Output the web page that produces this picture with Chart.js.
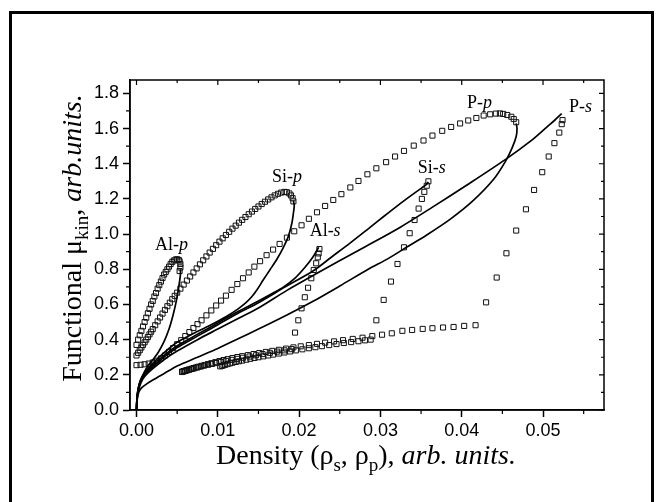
<!DOCTYPE html>
<html>
<head>
<meta charset="utf-8">
<title>Functional vs density</title>
<script src="https://cdn.jsdelivr.net/npm/chart.js@4.4.0/dist/chart.umd.min.js"></script>
<style>
  html, body { margin: 0; padding: 0; background: #fff; }
  #wrap { width: 661px; height: 502px; }
</style>
</head>
<body>
<div id="wrap"><canvas id="chart" width="661" height="502"></canvas></div>
<script>
// axis ticks
var xTicks = [0, 0.01, 0.02, 0.03, 0.04, 0.05];
var xMinor = [0.005, 0.015, 0.025, 0.035, 0.045, 0.055];
var yTicks = [0, 0.2, 0.4, 0.6, 0.8, 1.0, 1.2, 1.4, 1.6, 1.8];
var yMinor = [0.1, 0.3, 0.5, 0.7, 0.9, 1.1, 1.3, 1.5, 1.7];

// solid curves
var alpLineX = [0, 0.00005, 0.0002, 0.0005, 0.0009, 0.0014, 0.002, 0.0027, 0.0034, 0.004, 0.0045, 0.0049, 0.0052, 0.0054, 0.0054];
var alpLineY = [0, 0.06, 0.12, 0.17, 0.21, 0.25, 0.285, 0.33, 0.39, 0.46, 0.54, 0.62, 0.70, 0.77, 0.80];

var sipLineX = [0, 0.00005, 0.0002, 0.0005, 0.001, 0.002, 0.0035, 0.005, 0.007, 0.009, 0.011, 0.0125, 0.0135, 0.0142, 0.0148, 0.0156, 0.0164, 0.0173, 0.0181, 0.0187, 0.0191, 0.0193, 0.0194, 0.0193];
var sipLineY = [0, 0.06, 0.12, 0.17, 0.21, 0.265, 0.33, 0.385, 0.435, 0.48, 0.53, 0.575, 0.612, 0.645, 0.682, 0.74, 0.796, 0.86, 0.928, 0.99, 1.06, 1.12, 1.16, 1.19];

var alsLineX = [0, 0.00005, 0.0002, 0.0005, 0.001, 0.002, 0.0035, 0.005, 0.0075, 0.01, 0.0125, 0.015, 0.0168, 0.0181, 0.0195, 0.0207, 0.0217, 0.0224];
var alsLineY = [0, 0.06, 0.115, 0.165, 0.205, 0.255, 0.315, 0.365, 0.43, 0.495, 0.56, 0.62, 0.665, 0.70, 0.75, 0.81, 0.87, 0.925];

var sisLineX = [0, 0.00005, 0.0002, 0.0005, 0.001, 0.002, 0.0035, 0.005, 0.0075, 0.01, 0.0125, 0.015, 0.0183, 0.0217, 0.024, 0.0263, 0.0285, 0.0304, 0.0322, 0.0338, 0.035, 0.0356, 0.0359];
var sisLineY = [0, 0.055, 0.11, 0.16, 0.2, 0.245, 0.305, 0.355, 0.42, 0.485, 0.55, 0.61, 0.70, 0.79, 0.87, 0.95, 1.03, 1.10, 1.165, 1.22, 1.26, 1.28, 1.295];

var psLineX = [0, 0.00005, 0.0002, 0.0005, 0.001, 0.002, 0.0035, 0.005, 0.0075, 0.01, 0.0125, 0.015, 0.0185, 0.0222, 0.0274, 0.0324, 0.0365, 0.0406, 0.0454, 0.0485, 0.0505, 0.0515, 0.052, 0.0523];
var psLineY = [0, 0.05, 0.1, 0.15, 0.19, 0.235, 0.29, 0.335, 0.40, 0.46, 0.52, 0.58, 0.68, 0.777, 0.91, 1.038, 1.156, 1.278, 1.425, 1.53, 1.61, 1.65, 1.672, 1.685];

var ppLineX = [0, 0.00005, 0.0002, 0.0005, 0.001, 0.002, 0.0035, 0.005, 0.0075, 0.01, 0.0125, 0.015, 0.0185, 0.0216, 0.025, 0.0285, 0.031, 0.0332, 0.0357, 0.0386, 0.0414, 0.0439, 0.0454, 0.0462, 0.0467, 0.0468, 0.0467];
var ppLineY = [0, 0.045, 0.09, 0.12, 0.14, 0.17, 0.21, 0.25, 0.30, 0.35, 0.405, 0.46, 0.54, 0.615, 0.705, 0.80, 0.862, 0.925, 0.995, 1.085, 1.19, 1.31, 1.415, 1.49, 1.555, 1.60, 1.63];

// open-square markers
var alpMarkX = [0, 0.0002, 0.0004, 0.0006, 0.0008, 0.001, 0.0012, 0.0014, 0.0016, 0.0018, 0.002, 0.0022, 0.0024, 0.0026, 0.0028, 0.003, 0.0032, 0.0034, 0.0036, 0.0038, 0.004, 0.0042, 0.0044, 0.0046, 0.0048, 0.005, 0.0052, 0.0053, 0.0054, 0.0054, 0.0053];
var alpMarkY = [0.37, 0.40, 0.425, 0.45, 0.475, 0.50, 0.525, 0.55, 0.575, 0.60, 0.62, 0.645, 0.665, 0.69, 0.71, 0.73, 0.75, 0.77, 0.785, 0.80, 0.815, 0.83, 0.842, 0.85, 0.855, 0.857, 0.853, 0.845, 0.83, 0.81, 0.79];

var sipMarkX = [0, 0.0002, 0.0004, 0.0006, 0.0008, 0.001, 0.0012, 0.0014, 0.0016, 0.0018, 0.002, 0.0023, 0.0026, 0.0029, 0.0032, 0.0035, 0.0038, 0.0041, 0.0044, 0.0047, 0.005, 0.0054, 0.0058, 0.0062, 0.0066, 0.007, 0.0074, 0.0078, 0.0082, 0.0086, 0.009, 0.0094, 0.0098, 0.0102, 0.0106, 0.011, 0.0114, 0.0118, 0.0122, 0.0126, 0.013, 0.0134, 0.0138, 0.0142, 0.0146, 0.015, 0.0154, 0.0158, 0.0162, 0.0166, 0.017, 0.0174, 0.0178, 0.0182, 0.0185, 0.0188, 0.019, 0.0192, 0.0193];
var sipMarkY = [0.31, 0.325, 0.34, 0.355, 0.37, 0.385, 0.40, 0.415, 0.43, 0.445, 0.46, 0.482, 0.504, 0.526, 0.548, 0.569, 0.59, 0.61, 0.63, 0.649, 0.667, 0.69, 0.713, 0.736, 0.759, 0.782, 0.805, 0.828, 0.851, 0.873, 0.895, 0.916, 0.937, 0.957, 0.976, 0.995, 1.013, 1.031, 1.048, 1.065, 1.081, 1.097, 1.113, 1.128, 1.143, 1.157, 1.171, 1.184, 1.197, 1.209, 1.22, 1.229, 1.236, 1.24, 1.238, 1.231, 1.22, 1.204, 1.186];

var ppMarkX = [0, 0.0005, 0.001, 0.0015, 0.002, 0.0025, 0.003, 0.0035, 0.004, 0.0045, 0.005, 0.0055, 0.006, 0.0065, 0.007, 0.0075, 0.008, 0.0086, 0.0092, 0.0098, 0.0104, 0.011, 0.0117, 0.0124, 0.0131, 0.0138, 0.0145, 0.0152, 0.016, 0.0168, 0.0176, 0.0185, 0.0194, 0.0203, 0.0212, 0.0222, 0.0232, 0.0242, 0.0252, 0.0263, 0.0273, 0.0284, 0.0295, 0.0307, 0.0318, 0.0329, 0.0341, 0.0353, 0.0364, 0.0376, 0.0387, 0.0398, 0.0408, 0.0418, 0.0427, 0.0435, 0.0442, 0.0447, 0.0451, 0.0456, 0.0461, 0.0464, 0.0467];
var ppMarkY = [0.255, 0.257, 0.26, 0.264, 0.27, 0.28, 0.293, 0.31, 0.33, 0.352, 0.374, 0.397, 0.42, 0.443, 0.466, 0.488, 0.51, 0.538, 0.566, 0.594, 0.622, 0.65, 0.683, 0.716, 0.749, 0.782, 0.815, 0.846, 0.88, 0.912, 0.944, 0.98, 1.016, 1.05, 1.087, 1.124, 1.16, 1.194, 1.227, 1.265, 1.302, 1.34, 1.374, 1.409, 1.441, 1.473, 1.503, 1.532, 1.56, 1.587, 1.609, 1.629, 1.646, 1.66, 1.674, 1.681, 1.685, 1.686, 1.683, 1.677, 1.667, 1.654, 1.636];

var alsMarkX = [0.0056, 0.0058, 0.006, 0.0062, 0.0065, 0.0068, 0.0071, 0.0075, 0.0079, 0.0083, 0.0088, 0.0093, 0.0098, 0.0104, 0.011, 0.0117, 0.0124, 0.0131, 0.0139, 0.0147, 0.0155, 0.0164, 0.0173, 0.0182, 0.0191, 0.0195, 0.0199, 0.0203, 0.0207, 0.0211, 0.0215, 0.0218, 0.0221, 0.0223, 0.0224, 0.0225];
var alsMarkY = [0.216, 0.219, 0.222, 0.225, 0.229, 0.233, 0.237, 0.242, 0.247, 0.252, 0.257, 0.262, 0.267, 0.273, 0.279, 0.285, 0.291, 0.297, 0.304, 0.311, 0.318, 0.325, 0.332, 0.339, 0.346, 0.44, 0.51, 0.578, 0.641, 0.695, 0.749, 0.796, 0.834, 0.868, 0.89, 0.915];

var sisMarkX = [0.0103, 0.0105, 0.0107, 0.0109, 0.0112, 0.0115, 0.0118, 0.0122, 0.0126, 0.013, 0.0135, 0.014, 0.0145, 0.015, 0.0156, 0.0162, 0.0168, 0.0175, 0.0182, 0.0189, 0.0196, 0.0204, 0.0212, 0.022, 0.0228, 0.0237, 0.0246, 0.0255, 0.0264, 0.0273, 0.0281, 0.0288, 0.0295, 0.0304, 0.0313, 0.0321, 0.0329, 0.0336, 0.0342, 0.0347, 0.0351, 0.0354, 0.0357, 0.0359];
var sisMarkY = [0.248, 0.251, 0.254, 0.257, 0.261, 0.265, 0.269, 0.273, 0.277, 0.281, 0.286, 0.291, 0.296, 0.30, 0.305, 0.31, 0.315, 0.321, 0.327, 0.333, 0.339, 0.345, 0.351, 0.357, 0.363, 0.369, 0.375, 0.381, 0.386, 0.391, 0.396, 0.40, 0.51, 0.626, 0.73, 0.83, 0.925, 1.005, 1.08, 1.145, 1.20, 1.24, 1.275, 1.30];

var psMarkX = [0.0056, 0.0058, 0.006, 0.0062, 0.0064, 0.0067, 0.007, 0.0073, 0.0076, 0.008, 0.0084, 0.0088, 0.0092, 0.0097, 0.0102, 0.0107, 0.0112, 0.0118, 0.0124, 0.013, 0.0137, 0.0144, 0.0151, 0.0159, 0.0167, 0.0175, 0.0184, 0.0193, 0.0202, 0.0212, 0.0222, 0.0232, 0.0243, 0.0254, 0.0266, 0.0278, 0.029, 0.0302, 0.0314, 0.0327, 0.0339, 0.0352, 0.0364, 0.0377, 0.039, 0.0403, 0.0417, 0.043, 0.0443, 0.0455, 0.0467, 0.0479, 0.0489, 0.0499, 0.0507, 0.0514, 0.052, 0.0523, 0.0524];
var psMarkY = [0.218, 0.221, 0.224, 0.227, 0.23, 0.234, 0.238, 0.242, 0.246, 0.251, 0.256, 0.261, 0.266, 0.272, 0.278, 0.284, 0.289, 0.295, 0.301, 0.306, 0.312, 0.318, 0.324, 0.33, 0.336, 0.342, 0.349, 0.356, 0.362, 0.369, 0.376, 0.383, 0.39, 0.397, 0.404, 0.411, 0.42, 0.428, 0.436, 0.45, 0.455, 0.461, 0.465, 0.469, 0.472, 0.478, 0.482, 0.612, 0.753, 0.891, 1.02, 1.141, 1.251, 1.352, 1.441, 1.517, 1.577, 1.625, 1.648];

// curve labels
var labelHead = ['Al-', 'Si-', 'Al-', 'Si-', 'P-', 'P-'];
var labelOrb = ['p', 'p', 's', 's', 'p', 's'];
var labelX = [0.0043, 0.0185, 0.0232, 0.0363, 0.0422, 0.0546];
var labelY = [0.938, 1.323, 1.014, 1.374, 1.744, 1.719];

function pts(xs, ys) {
    return xs.map(function(x, i) { return {x: x, y: ys[i]}; });
}

function lineSet(xs, ys) {
    return {
        data: pts(xs, ys), showLine: true, pointRadius: 0,
        borderColor: '#000', borderWidth: 1.7, tension: 0.3, fill: false
    };
}

function markSet(xs, ys) {
    return {
        data: pts(xs, ys), showLine: false, pointStyle: 'rect', pointRadius: 3.6,
        borderColor: '#111', borderWidth: 1, backgroundColor: 'rgba(0,0,0,0)'
    };
}

// draws a row of text pieces with different fonts, centred on x
function drawRuns(ctx, runs, x, y) {
    var total = 0;
    runs.forEach(function(r) { ctx.font = r.font; total += ctx.measureText(r.t).width; });
    var cx = x - total / 2;
    runs.forEach(function(r) {
        ctx.font = r.font;
        ctx.fillText(r.t, cx, y + (r.dy || 0));
        cx += ctx.measureText(r.t).width;
    });
}

var decor = {
    id: 'decor',
    afterDraw: function(chart) {
        var ctx = chart.ctx, a = chart.chartArea;
        var xs = chart.scales.x, ys = chart.scales.y;
        ctx.save();
        ctx.strokeStyle = '#000';
        ctx.fillStyle = '#000';

        // outer frame
        ctx.lineWidth = 3;
        ctx.strokeRect(10.5, 12.5, 642, 520);

        // plot box
        ctx.lineWidth = 1.5;
        ctx.strokeRect(a.left, a.top, a.right - a.left, a.bottom - a.top);

        // minor ticks outside, plus small ticks on top and right
        ctx.lineWidth = 1.2;
        ctx.beginPath();
        xMinor.forEach(function(v) {
            var px = xs.getPixelForValue(v);
            ctx.moveTo(px, a.bottom); ctx.lineTo(px, a.bottom + 4);
            ctx.moveTo(px, a.top); ctx.lineTo(px, a.top + 3);
        });
        xTicks.forEach(function(v) {
            var px = xs.getPixelForValue(v);
            ctx.moveTo(px, a.top); ctx.lineTo(px, a.top + 5);
        });
        yMinor.forEach(function(v) {
            var py = ys.getPixelForValue(v);
            ctx.moveTo(a.left, py); ctx.lineTo(a.left - 4, py);
            ctx.moveTo(a.right, py); ctx.lineTo(a.right - 3, py);
        });
        yTicks.forEach(function(v) {
            var py = ys.getPixelForValue(v);
            ctx.moveTo(a.right, py); ctx.lineTo(a.right - 5, py);
        });
        ctx.stroke();

        // curve labels
        ctx.textBaseline = 'middle';
        ctx.textAlign = 'left';
        for (var i = 0; i < labelHead.length; i++) {
            drawRuns(ctx, [
                {t: labelHead[i], font: '18px "Liberation Serif", serif'},
                {t: labelOrb[i], font: 'italic 18px "Liberation Serif", serif'}
            ], xs.getPixelForValue(labelX[i]), ys.getPixelForValue(labelY[i]));
        }

        // x title
        ctx.textBaseline = 'alphabetic';
        drawRuns(ctx, [
            {t: 'Density (\u03c1', font: '28px "Liberation Serif", serif'},
            {t: 's', font: '19px "Liberation Serif", serif', dy: 7},
            {t: ', \u03c1', font: '28px "Liberation Serif", serif'},
            {t: 'p', font: '19px "Liberation Serif", serif', dy: 7},
            {t: '), ', font: '28px "Liberation Serif", serif'},
            {t: 'arb. units.', font: 'italic 28px "Liberation Serif", serif'}
        ], (a.left + a.right) / 2 - 1, 464);

        // y title
        ctx.translate(81, 238);
        ctx.rotate(-Math.PI / 2);
        drawRuns(ctx, [
            {t: 'Functional \u03bc', font: '28px "Liberation Serif", serif'},
            {t: 'kin', font: '19px "Liberation Serif", serif', dy: 7},
            {t: ', ', font: '28px "Liberation Serif", serif'},
            {t: 'arb.units.', font: 'italic 28px "Liberation Serif", serif'}
        ], 0, 0);
        ctx.restore();
    }
};

new Chart(document.getElementById('chart'), {
    type: 'scatter',
    data: {
        datasets: [
            lineSet(alpLineX, alpLineY),
            lineSet(sipLineX, sipLineY),
            lineSet(alsLineX, alsLineY),
            lineSet(sisLineX, sisLineY),
            lineSet(psLineX, psLineY),
            lineSet(ppLineX, ppLineY),
            markSet(alpMarkX, alpMarkY),
            markSet(sipMarkX, sipMarkY),
            markSet(ppMarkX, ppMarkY),
            markSet(alsMarkX, alsMarkY),
            markSet(sisMarkX, sisMarkY),
            markSet(psMarkX, psMarkY)
        ]
    },
    options: {
        responsive: false,
        animation: false,
        devicePixelRatio: 1,
        layout: { padding: { left: 0, top: 80, right: 57, bottom: 0 } },
        plugins: { legend: { display: false }, tooltip: { enabled: false } },
        scales: {
            x: {
                type: 'linear', min: -0.0008, max: 0.0575,
                afterBuildTicks: function(s) { s.ticks = xTicks.map(function(v) { return {value: v}; }); },
                afterFit: function(s) { s.height = 92; },
                ticks: {
                    color: '#000', padding: 3, maxRotation: 0,
                    font: { family: '"Liberation Sans", Arial, sans-serif', size: 18 },
                    callback: function(v) { return Number(v).toFixed(2); }
                },
                grid: { drawOnChartArea: false, drawTicks: true, tickLength: 7, tickWidth: 1.5, tickColor: '#000' },
                border: { display: true, color: '#000', width: 1.5 }
            },
            y: {
                type: 'linear', min: 0, max: 1.876,
                afterBuildTicks: function(s) { s.ticks = yTicks.map(function(v) { return {value: v}; }); },
                afterFit: function(s) { s.width = 130; },
                ticks: {
                    color: '#000', padding: 4,
                    font: { family: '"Liberation Sans", Arial, sans-serif', size: 18 },
                    callback: function(v) { return Number(v).toFixed(1); }
                },
                grid: { drawOnChartArea: false, drawTicks: true, tickLength: 7, tickWidth: 1.5, tickColor: '#000' },
                border: { display: true, color: '#000', width: 1.5 }
            }
        }
    },
    plugins: [decor]
});
</script>
</body>
</html>
